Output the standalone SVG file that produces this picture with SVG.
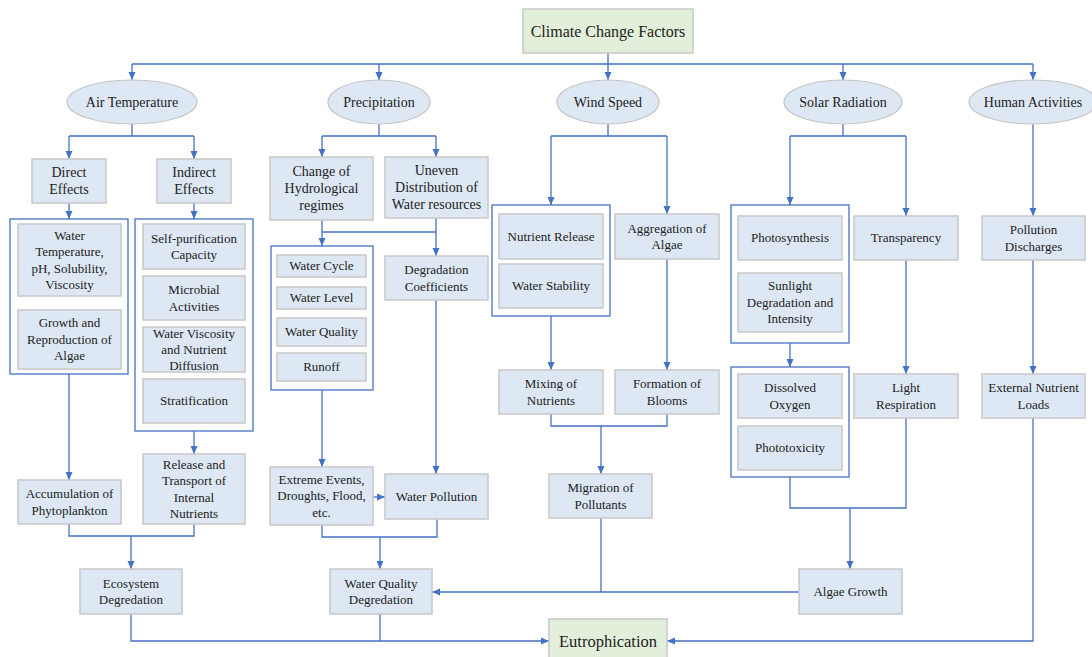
<svg xmlns="http://www.w3.org/2000/svg" width="1092" height="657" viewBox="0 0 1092 657">
<style>
text{font-family:"Liberation Serif","Times New Roman",serif;fill:#222;text-anchor:middle;font-size:13px}
.b{fill:#dde8f4;stroke:#c8c8c8;stroke-width:1.5}
.g{fill:#e2efda;stroke:#c8c8c8;stroke-width:1.5}
.e{fill:#dde8f4;stroke:#c4c4c4;stroke-width:1.2}
.grp{fill:#fff;stroke:#4472c4;stroke-width:1.3}
.c{fill:none;stroke:#4472c4;stroke-width:1.3}
.a{fill:none;stroke:#4472c4;stroke-width:1.3;marker-end:url(#ah)}
.t14{font-size:14px}
</style>
<defs>
<marker id="ah" markerUnits="userSpaceOnUse" markerWidth="9" markerHeight="8" refX="8" refY="4" orient="auto"><path d="M0,0.5 L8,4 L0,7.5 z" fill="#4472c4"/></marker>
</defs>
<rect width="1092" height="657" fill="#fff"/>

<g id="connectors">
<path class="a" d="M608,53 V80"/>
<path class="c" d="M132,64 H1033"/>
<path class="a" d="M132,64 V80"/>
<path class="a" d="M379,64 V80"/>
<path class="a" d="M843,64 V80"/>
<path class="a" d="M1033,64 V80"/>
<path class="c" d="M132,124 V136 M69,136 H194"/>
<path class="a" d="M69,136 V159"/>
<path class="a" d="M194,136 V159"/>
<path class="a" d="M69,203 V219"/>
<path class="a" d="M194,203 V219"/>
<path class="a" d="M69,374 V480"/>
<path class="a" d="M194,431 V454"/>
<path class="c" d="M69,524 V536 H194 V524"/>
<path class="a" d="M131,536 V569"/>
<path class="a" d="M131,614 V641 H549"/>
<path class="c" d="M379,124 V136 M322,136 H436"/>
<path class="a" d="M322,136 V157"/>
<path class="a" d="M436,136 V157"/>
<path class="a" d="M322,220 V246"/>
<path class="a" d="M436,218 V256"/>
<path class="c" d="M322,232 H436"/>
<path class="a" d="M322,390 V467"/>
<path class="a" d="M436,300 V474"/>
<path class="a" d="M373,497 H385"/>
<path class="c" d="M322,525 V537 H437 V519"/>
<path class="a" d="M380,537 V569"/>
<path class="c" d="M380,614 V641"/>
<path class="c" d="M608,124 V136 M551,136 H667"/>
<path class="a" d="M551,136 V205"/>
<path class="a" d="M667,136 V214"/>
<path class="a" d="M551,316 V370"/>
<path class="a" d="M667,259 V370"/>
<path class="c" d="M551,414 V426 H667 V414"/>
<path class="a" d="M601,426 V474"/>
<path class="c" d="M601,518 V592"/>
<path class="a" d="M799,592 H432"/>
<path class="c" d="M843,124 V136 M790,136 H906"/>
<path class="a" d="M790,136 V205"/>
<path class="a" d="M906,136 V216"/>
<path class="a" d="M790,343 V367"/>
<path class="a" d="M906,260 V374"/>
<path class="c" d="M790,477 V508 H906 V418"/>
<path class="a" d="M850,508 V569"/>
<path class="a" d="M1033,124 V216"/>
<path class="a" d="M1033,260 V374"/>
<path class="a" d="M1033,418 V641 H667"/>
</g>

<g id="climate"><rect class="g" x="523" y="9" width="170" height="44"/><text x="608" y="36.5" style="font-size:16px">Climate Change Factors</text></g>

<g id="air"><ellipse class="e" cx="132" cy="102" rx="65" ry="22"/><text class="t14" x="132" y="106.6">Air Temperature</text></g>
<g id="precip"><ellipse class="e" cx="379" cy="102" rx="51" ry="22"/><text class="t14" x="379" y="106.6">Precipitation</text></g>
<g id="wind"><ellipse class="e" cx="608" cy="102" rx="51" ry="22"/><text class="t14" x="608" y="106.6">Wind Speed</text></g>
<g id="solar"><ellipse class="e" cx="843" cy="102" rx="59" ry="22"/><text class="t14" x="843" y="106.6">Solar Radiation</text></g>
<g id="human"><ellipse class="e" cx="1033" cy="102" rx="64" ry="22"/><text class="t14" x="1033" y="106.6">Human Activities</text></g>

<g id="direct"><rect class="b" x="32" y="159" width="74" height="44"/><text class="t14" x="69" y="177.1">Direct</text><text class="t14" x="69" y="194.1">Effects</text></g>
<g id="indirect"><rect class="b" x="157" y="159" width="74" height="44"/><text class="t14" x="194" y="177.1">Indirect</text><text class="t14" x="194" y="194.1">Effects</text></g>

<g id="group-direct"><rect class="grp" x="10" y="219" width="118" height="155"/>
<g id="watertemp"><rect class="b" x="18" y="224" width="103" height="72"/><text x="69.5" y="239.5">Water</text><text x="69.5" y="256">Temperature,</text><text x="69.5" y="272.5">pH, Solubility,</text><text x="69.5" y="289">Viscosity</text></g>
<g id="growth"><rect class="b" x="18" y="310" width="103" height="59"/><text x="69.5" y="327.3">Growth and</text><text x="69.5" y="343.8">Reproduction of</text><text x="69.5" y="360.3">Algae</text></g>
</g>

<g id="group-indirect"><rect class="grp" x="135" y="219" width="118" height="212"/>
<g id="selfpur"><rect class="b" x="143" y="224" width="102" height="45"/><text x="194" y="242.5">Self-purification</text><text x="194" y="259">Capacity</text></g>
<g id="microbial"><rect class="b" x="143" y="276" width="102" height="44"/><text x="194" y="294">Microbial</text><text x="194" y="310.5">Activities</text></g>
<g id="viscosity"><rect class="b" x="143" y="327" width="102" height="45"/><text x="194" y="337.5">Water Viscosity</text><text x="194" y="354">and Nutrient</text><text x="194" y="370">Diffusion</text></g>
<g id="strat"><rect class="b" x="143" y="379" width="102" height="44"/><text x="194" y="405.3">Stratification</text></g>
</g>

<g id="accum"><rect class="b" x="18" y="480" width="103" height="44"/><text x="69.5" y="498">Accumulation of</text><text x="69.5" y="514.5">Phytoplankton</text></g>
<g id="release"><rect class="b" x="143" y="454" width="102" height="70"/><text x="194" y="468.5">Release and</text><text x="194" y="485">Transport of</text><text x="194" y="501.5">Internal</text><text x="194" y="518">Nutrients</text></g>
<g id="ecosystem"><rect class="b" x="80" y="569" width="102" height="45"/><text x="131" y="587.5">Ecosystem</text><text x="131" y="604">Degredation</text></g>

<g id="change"><rect class="b" x="270" y="157" width="103" height="63"/><text class="t14" x="321.5" y="176.1">Change of</text><text class="t14" x="321.5" y="193.1">Hydrological</text><text class="t14" x="321.5" y="210.1">regimes</text></g>
<g id="uneven"><rect class="b" x="385" y="157" width="103" height="61"/><text class="t14" x="436.5" y="175.1">Uneven</text><text class="t14" x="436.5" y="192.1">Distribution of</text><text class="t14" x="436.5" y="209.1">Water resources</text></g>

<g id="group-hydro"><rect class="grp" x="271" y="246" width="102" height="144"/>
<g id="cycle"><rect class="b" x="277" y="255" width="89" height="22"/><text x="321.5" y="270.3">Water Cycle</text></g>
<g id="level"><rect class="b" x="277" y="287" width="89" height="22"/><text x="321.5" y="302.3">Water Level</text></g>
<g id="quality"><rect class="b" x="277" y="318" width="89" height="28"/><text x="321.5" y="336.3">Water Quality</text></g>
<g id="runoff"><rect class="b" x="277" y="353" width="89" height="28"/><text x="321.5" y="371.3">Runoff</text></g>
</g>

<g id="degcoef"><rect class="b" x="385" y="256" width="103" height="44"/><text x="436.5" y="274">Degradation</text><text x="436.5" y="290.5">Coefficients</text></g>
<g id="extreme"><rect class="b" x="270" y="467" width="103" height="58"/><text x="321.5" y="483.8">Extreme Events,</text><text x="321.5" y="500.3">Droughts, Flood,</text><text x="321.5" y="516.8">etc.</text></g>
<g id="pollution"><rect class="b" x="385" y="474" width="103" height="45"/><text x="436.5" y="500.8">Water Pollution</text></g>
<g id="wqd"><rect class="b" x="330" y="569" width="102" height="45"/><text x="381" y="587.5">Water Quality</text><text x="381" y="604">Degredation</text></g>

<g id="group-wind"><rect class="grp" x="492" y="205" width="118" height="111"/>
<g id="nutrel"><rect class="b" x="499" y="214" width="104" height="45"/><text x="551" y="240.8">Nutrient Release</text></g>
<g id="stability"><rect class="b" x="499" y="264" width="104" height="44"/><text x="551" y="290.3">Water Stability</text></g>
</g>
<g id="aggregation"><rect class="b" x="615" y="214" width="104" height="45"/><text x="667" y="232.5">Aggregation of</text><text x="667" y="249">Algae</text></g>
<g id="mixing"><rect class="b" x="499" y="370" width="104" height="44"/><text x="551" y="388">Mixing of</text><text x="551" y="404.5">Nutrients</text></g>
<g id="formation"><rect class="b" x="615" y="370" width="104" height="44"/><text x="667" y="388">Formation of</text><text x="667" y="404.5">Blooms</text></g>
<g id="migration"><rect class="b" x="549" y="474" width="103" height="44"/><text x="600.5" y="492">Migration of</text><text x="600.5" y="508.5">Pollutants</text></g>

<g id="group-solar1"><rect class="grp" x="731" y="205" width="118" height="138"/>
<g id="photosyn"><rect class="b" x="738" y="216" width="104" height="44"/><text x="790" y="242.3">Photosynthesis</text></g>
<g id="sunlight"><rect class="b" x="738" y="273" width="104" height="59"/><text x="790" y="290.3">Sunlight</text><text x="790" y="306.8">Degradation and</text><text x="790" y="323.3">Intensity</text></g>
</g>
<g id="transparency"><rect class="b" x="854" y="216" width="104" height="44"/><text x="906" y="242.3">Transparency</text></g>
<g id="group-solar2"><rect class="grp" x="731" y="367" width="118" height="110"/>
<g id="dissolved"><rect class="b" x="738" y="374" width="104" height="44"/><text x="790" y="392">Dissolved</text><text x="790" y="408.5">Oxygen</text></g>
<g id="phototox"><rect class="b" x="738" y="426" width="104" height="44"/><text x="790" y="452.3">Phototoxicity</text></g>
</g>
<g id="lightresp"><rect class="b" x="854" y="374" width="104" height="44"/><text x="906" y="392">Light</text><text x="906" y="408.5">Respiration</text></g>
<g id="algaegrowth"><rect class="b" x="799" y="569" width="103" height="45"/><text x="850.5" y="595.8">Algae Growth</text></g>

<g id="discharges"><rect class="b" x="982" y="216" width="103" height="44"/><text x="1033.5" y="234">Pollution</text><text x="1033.5" y="250.5">Discharges</text></g>
<g id="external"><rect class="b" x="982" y="374" width="103" height="44"/><text x="1033.5" y="392">External Nutrient</text><text x="1033.5" y="408.5">Loads</text></g>

<g id="eutrophication"><rect class="g" x="549" y="619" width="118" height="44"/><text x="608" y="646.5" style="font-size:16.5px">Eutrophication</text></g>
</svg>
